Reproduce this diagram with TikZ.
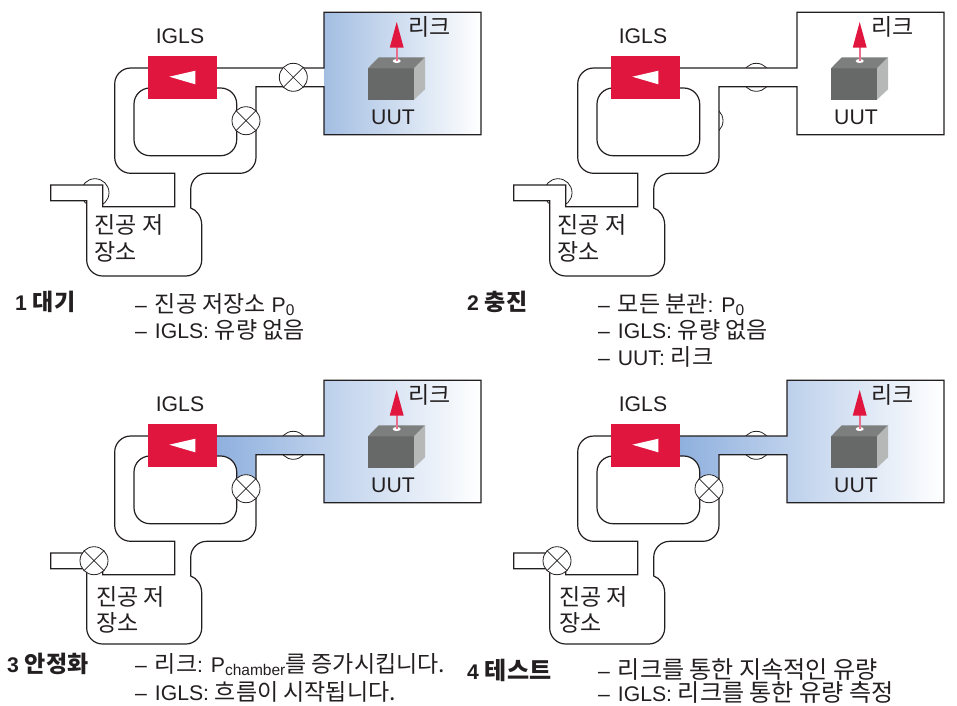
\documentclass[tikz,border=0pt]{standalone}
\usepackage{fontspec}
\setmainfont{Liberation Sans}
\newfontfamily\kr[Scale=1.085]{Noto Sans CJK KR}
\newfontfamily\krw[Scale=1.135]{Noto Sans CJK KR}
\newcommand\K[1]{{\kr #1}}
\newcommand\W[1]{{\krw #1}}
\newcommand\Dash{–\hspace{2pt} }
\newcommand\Sb[1]{\raisebox{-3.5pt}{\fontsize{15.5}{15.5}\selectfont #1}}
\definecolor{ink}{HTML}{231F20}
\definecolor{crimson}{HTML}{E0163F}
\definecolor{gasblue}{HTML}{8FB0DE}
\definecolor{gasblueb}{HTML}{A3BEE2}
\definecolor{cubefront}{HTML}{666967}
\definecolor{cubetop}{HTML}{7C7F7D}
\definecolor{cubeside}{HTML}{B5B8B6}
\definecolor{leakpink}{HTML}{E8708C}
\tikzset{
  pipeline/.style={draw=ink,line width=1.2pt,rounded corners=16pt},
  valvering/.style={draw=ink,line width=0.8pt},
  lbl/.style={font=\fontsize{21.2}{23}\selectfont,text=ink,inner sep=0pt},
  captxt/.style={lbl,anchor=base west},
  headtxt/.style={lbl,anchor=base west,font=\fontsize{21.2}{23}\selectfont\bfseries},
}
\newcommand\closedvalve[3]{%
  \node[circle,draw=ink,line width=0.8pt,fill=white,minimum size=28pt,inner sep=0pt] (#1) at (#2,#3) {};
  \draw[ink,line width=0.7pt] (#1.45)--(#1.225) (#1.135)--(#1.315);}
\newcommand\openvalve[3]{\draw[valvering] (#2,#3) circle[radius=14pt];}
% #1 chamber left x
\newcommand\pipework[1]{%
  \path[pipeline,fill=none] (217,68)[sharp corners]--(#1,68)--(#1,12.3)--(481,12.3)--(481,134.7)--(#1,134.7)--(#1,86.7)--(256,86.7)[rounded corners=16pt]--(256,173.3)--(190.7,173.3)[sharp corners]--(190.7,208)
    .. controls (197,210) and (201.7,217) .. (201.7,225)[rounded corners=16pt]--(201.7,276)--(86.7,276)[sharp corners]--(86.7,200.7)--(50.7,200.7)--(50.7,185)--(102.7,185)--(102.7,206.7)--(174.7,206.7)--(174.7,173.3)[rounded corners=16pt]--(114.7,173.3)--(114.7,68)--(148,68);
  \path[pipeline] (217,88)--(236.7,88)--(236.7,155.7)--(134,155.7)--(134,88)--(148,88);
}
\newcommand\device[1]{% #1 name prefix
  \node[fill=crimson,minimum width=69pt,minimum height=43pt,inner sep=0pt] (#1pump) at (182.5,77.5) {};
  \fill[white] (169.3,76.7)--(195.3,70.7)--(195.3,84.3)--cycle;
  \fill[cubefront] (368,68.3) rectangle (414,99.7);
  \fill[cubetop] (368,68.3)--(378.7,57.3)--(425,57.3)--(414,68.3)--cycle;
  \fill[cubeside] (414,68.3)--(425,57.3)--(425,89.3)--(414,99.7)--cycle;
  \fill[white] (396.7,61) ellipse[x radius=4pt,y radius=2pt];
  \draw[leakpink,line width=1.6pt] (396.7,61)--(396.7,46);
  \fill[crimson] (396.7,22)--(403.7,47.7)--(389.7,47.7)--cycle;
  \node[lbl] (#1igls) at (180,36.5) {IGLS};
  \node[lbl] (#1uut) at (393,117) {UUT};
  \node[lbl] (#1leak) at (429.5,27) {\K{리크}};
}
\newcommand\tanktext[2]{%
  \node[lbl,anchor=west] (#1a) at (#2,225) {\K{진공 저}};
  \node[lbl,anchor=west] (#1b) at (#2,252) {\K{장소}};
}
\begin{document}
\begin{tikzpicture}[x=1pt,y=-1pt]
\useasboundingbox (0,0) rectangle (957,705);
% ---------- panel 1
\begin{scope}
  \shade[left color=gasblueb,right color=white] (324,12.3) rectangle (481,134.7);
  \openvalve{a}{95}{192.7}
  \fill[white] (60,185)--(102.7,185)--(102.7,215)--(86.7,215)--(86.7,200.7)--(60,200.7)--cycle;
  \pipework{324}
  \closedvalve{p1v1}{293.3}{77.3}
  \closedvalve{p1v2}{246}{120.7}
  \device{p1}
  \tanktext{p1t}{94.5}
\end{scope}
% ---------- panel 2
\begin{scope}[shift={(463,0)}]
  \openvalve{a}{95}{192.7}
  \openvalve{b}{293.3}{77.3}
  \openvalve{c}{246}{120.7}
  \fill[white] (60,185)--(102.7,185)--(102.7,215)--(86.7,215)--(86.7,200.7)--(60,200.7)--cycle;
  \fill[white] (270,68) rectangle (320,86.7);
  \fill[white] (225,100) rectangle (256,140);
  \pipework{334}
  \device{p2}
  \tanktext{p2t}{94.5}
\end{scope}
% ---------- panel 3
\begin{scope}[shift={(0,368)}]
  \openvalve{b}{293.3}{77.3}
  \shade[left color=gasblue,right color=white,rounded corners=16pt] (217,88)--(236.7,88)--(236.7,125)[sharp corners]--(256,125)--(256,86.7)--(324,86.7)--(324,134.7)--(481,134.7)--(481,12.3)--(324,12.3)--(324,68)--(217,68)--cycle;
  \pipework{324}
  \closedvalve{p3v2}{246}{120.7}
  \closedvalve{p3v3}{94}{192.7}
  \device{p3}
\end{scope}
\node[lbl,anchor=west] (p3ta) at (96,596.5) {\K{진공 저}};
\node[lbl,anchor=west] (p3tb) at (96,623) {\K{장소}};
% ---------- panel 4
\begin{scope}[shift={(463,368)}]
  \openvalve{b}{293.3}{77.3}
  \shade[left color=gasblue,right color=white,rounded corners=16pt] (217,88)--(236.7,88)--(236.7,125)[sharp corners]--(256,125)--(256,86.7)--(324,86.7)--(324,134.7)--(481,134.7)--(481,12.3)--(324,12.3)--(324,68)--(217,68)--cycle;
  \pipework{324}
  \closedvalve{p4v2}{246}{120.7}
  \closedvalve{p4v3}{94}{192.7}
  \device{p4}
\end{scope}
\node[lbl,anchor=west] (p4ta) at (559,596.5) {\K{진공 저}};
\node[lbl,anchor=west] (p4tb) at (559,623) {\K{장소}};
% ---------- captions
\node[headtxt] (h1) at (15,310) {1 \K{대기}};
\node[captxt] (c1a) at (135,312) {\Dash\K{진공 저장소} P\Sb{0}};
\node[captxt] (c1b) at (135,338) {\Dash IGLS: \K{유량 없음}};
\node[headtxt] (h2) at (467,310) {2 \K{충진}};
\node[captxt] (c2a) at (598,312) {\Dash\K{모든 분관}: P\Sb{0}};
\node[captxt] (c2b) at (598,338) {\Dash IGLS: \K{유량 없음}};
\node[captxt] (c2c) at (598,365) {\Dash UUT: \K{리크}};
\node[headtxt] (h3) at (7,672) {3 \K{안정화}};
\node[captxt] (c3a) at (135,672) {\Dash\K{리크}: P\Sb{chamber}\K{를 증가시킵니다.}};
\node[captxt] (c3b) at (135,700) {\Dash IGLS: \K{흐름이 시작됩니다.}};
\node[headtxt] (h4) at (467,679) {4 \W{테스트}};
\node[captxt] (c4a) at (598,678) {\Dash\W{리크를 통한 지속적인 유량}};
\node[captxt] (c4b) at (598,701.5) {\Dash IGLS: \W{리크를 통한 유량 측정}};
\end{tikzpicture}
\end{document}
